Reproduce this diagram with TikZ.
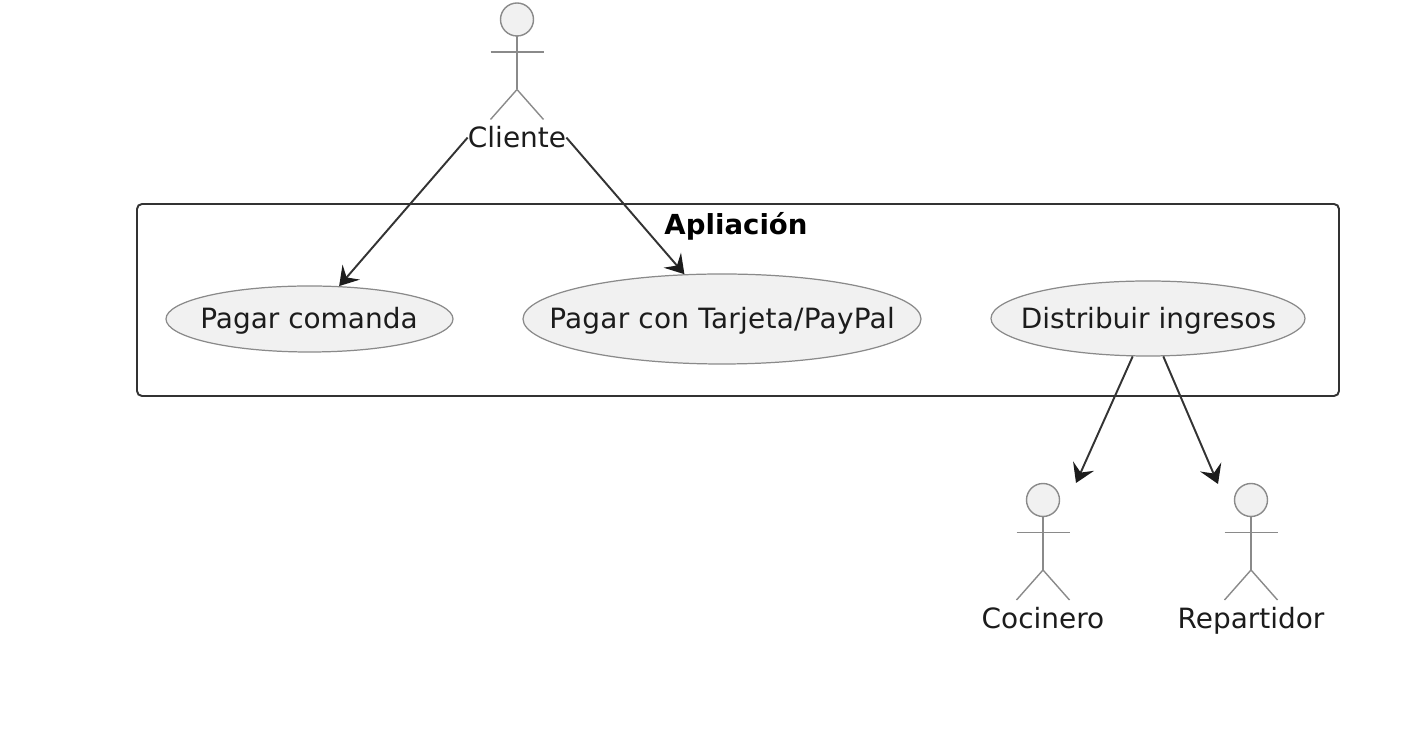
\documentclass[tikz,border=0pt]{standalone}
\usepackage{fontspec}
\setmainfont{DejaVu Sans}
\usetikzlibrary{arrows.meta,shapes.geometric}
\definecolor{lineDark}{HTML}{333333}
\definecolor{lineGray}{HTML}{8A8A8A}
\definecolor{fillUse}{HTML}{F1F1F1}
\definecolor{textDark}{HTML}{1C1C1C}
\tikzset{
  label text/.style={font=\fontsize{15.9}{18}\selectfont,text=textDark,inner sep=0pt},
  usecase/.style={ellipse,draw=lineGray,line width=0.7pt,fill=fillUse,inner sep=0pt},
  flow/.style={draw=lineDark,line width=1.1pt,-{Stealth[length=10.5pt,width=13pt,inset=4pt,color=textDark]}},
  actor line/.style={draw=lineGray,line width=0.8pt}
}
% head position, node name, label
\newcommand{\actorfig}[4]{
  \draw[actor line,fill=fillUse] (#1,#2) circle (0.33);
  \draw[actor line] (#1,#2-0.33) -- (#1,#2-1.4);
  \draw[actor line] (#1-0.53,#2-0.65) -- (#1+0.53,#2-0.65);
  \draw[actor line] (#1-0.53,#2-2.0) -- (#1,#2-1.4) -- (#1+0.53,#2-2.0);
  \node[label text,anchor=base] (#3) at (#1,#2-2.57) {#4};
}

\begin{document}
\begin{tikzpicture}
  \useasboundingbox (0.0,0.0) rectangle (28.02,14.78);
  \draw[lineDark,line width=1.1pt,rounded corners=0.1cm] (2.74,6.86) rectangle (26.78,10.7);
  \node[label text,text=black,font=\fontsize{15.7}{18}\selectfont\bfseries] (apliacion) at (14.72,10.26) {Apliación};
% Use cases
  \node[usecase,minimum width=5.74cm,minimum height=1.32cm] (comanda) at (6.19,8.4) {};
  \node[usecase,minimum width=7.96cm,minimum height=1.8cm] (tarjeta) at (14.44,8.4) {};
  \node[usecase,minimum width=6.28cm,minimum height=1.5cm] (ingresos) at (22.96,8.41) {};
  \node[label text] (comandaText) at (6.18,8.36) {Pagar comanda};
  \node[label text] (tarjetaText) at (14.44,8.36) {\addfontfeature{LetterSpace=0.9}Pagar con Tarjeta/PayPal};
  \node[label text] (ingresosText) at (22.97,8.36) {Distribuir ingresos};
% Actors
  \actorfig{10.34}{14.39}{cliente}{Cliente}
  \actorfig{20.86}{4.78}{cocinero}{Cocinero}
  \actorfig{25.02}{4.78}{repartidor}{Repartidor}
  \coordinate (cocineroTop) at (21.52,5.12);
  \coordinate (repartidorTop) at (24.36,5.1);
% Connectors
  \draw[flow] (cliente.west) -- (comanda.48.6);
  \draw[flow] (cliente.east) -- (tarjeta.130);
  \draw[flow] (ingresos.248) -- (cocineroTop);
  \draw[flow] (ingresos.292) -- (repartidorTop);
\end{tikzpicture}
\end{document}
